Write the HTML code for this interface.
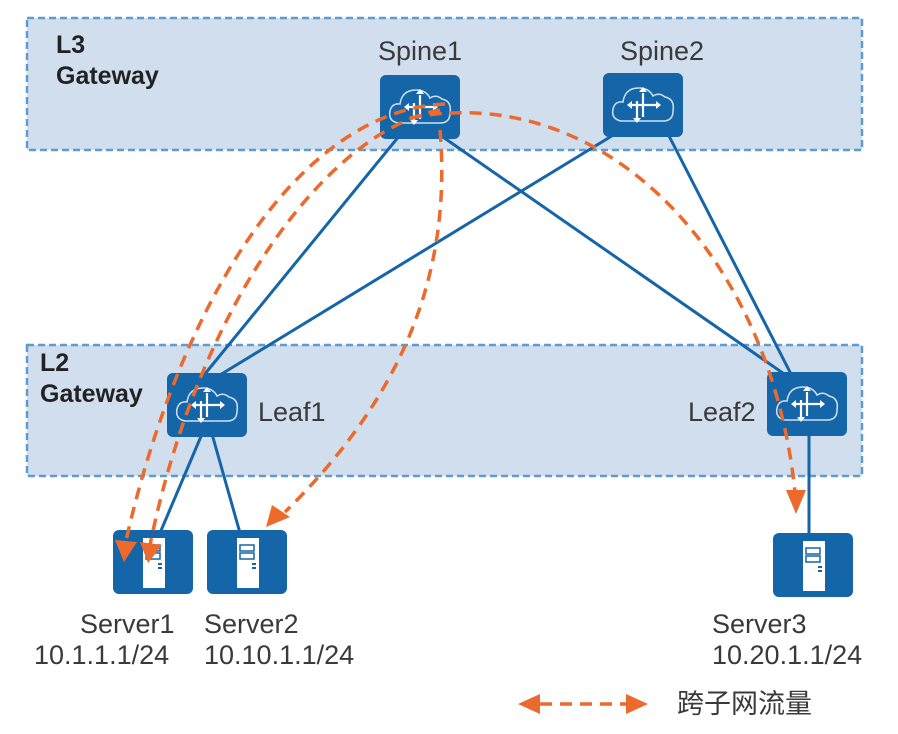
<!DOCTYPE html>
<html><head><meta charset="utf-8"><style>
body{margin:0;background:#fff;}
svg{display:block}
text{font-family:"Liberation Sans","Noto Sans CJK SC",sans-serif;fill:#3a3a3a}
</style></head><body>
<svg width="898" height="734" viewBox="0 0 898 734" xmlns="http://www.w3.org/2000/svg">
<defs>
<g id="sw">
<rect x="0" y="0" width="80" height="64" rx="6" fill="#1565a9"/>
<path d="M18 48 Q8 46 10 36 Q12 28 20 29 Q22 15 36 15 Q46 15 50 23 Q56 19 62 24 Q72 26 70 38 Q70 48 60 48 Z" fill="none" stroke="#cfe0f2" stroke-width="1.5"/>
<g stroke="#fff" stroke-width="2.2" fill="none">
<line x1="40" y1="20" x2="40" y2="44"/><line x1="28" y1="32" x2="54" y2="32"/>
<line x1="34" y1="28" x2="34" y2="46"/>
</g>
<g fill="#fff"><path d="M36 19 L40 14 L44 19Z"/><path d="M30 45 L34 50 L38 45Z"/><path d="M53 28 L58 32 L53 36Z"/><path d="M29 28 L24 32 L29 36Z"/></g>
</g>
<g id="sv">
<rect x="0" y="0" width="80" height="64" rx="6" fill="#1565a9"/>
<rect x="30" y="8" width="22" height="50" fill="#fff"/>
<rect x="33" y="15" width="14" height="6" fill="none" stroke="#1565a9" stroke-width="1.5"/>
<rect x="33" y="23" width="14" height="6" fill="none" stroke="#1565a9" stroke-width="1.5"/>
<rect x="45" y="33" width="4" height="2" fill="#1565a9"/><rect x="45" y="37" width="4" height="2" fill="#1565a9"/>
</g>
</defs>
<rect x="27" y="18" width="835" height="132" fill="#d0deee" stroke="#5d9bd0" stroke-width="2.5" stroke-dasharray="7,4"/>
<rect x="27" y="345" width="835" height="131" fill="#d0deee" stroke="#5d9bd0" stroke-width="2.5" stroke-dasharray="7,4"/>
<text x="56" y="53" font-size="25" font-weight="bold" style="fill:#222">L3</text>
<text x="56" y="84" font-size="25" font-weight="bold" style="fill:#222">Gateway</text>
<text x="40" y="371" font-size="25" font-weight="bold" style="fill:#222">L2</text>
<text x="40" y="402" font-size="25" font-weight="bold" style="fill:#222">Gateway</text>
<g stroke="#1565a9" stroke-width="3">
<line x1="400" y1="135" x2="200" y2="380"/>
<line x1="440" y1="135" x2="790" y2="378"/>
<line x1="615" y1="134" x2="215" y2="378"/>
<line x1="668" y1="134" x2="792" y2="376"/>
<line x1="202" y1="434" x2="160" y2="533"/>
<line x1="212" y1="434" x2="240" y2="533"/>
<line x1="809" y1="434" x2="809" y2="535"/>
</g>
<use href="#sw" x="380" y="75"/>
<use href="#sw" x="603" y="73"/>
<use href="#sw" x="167" y="373"/>
<use href="#sw" x="767" y="372"/>
<use href="#sv" x="113" y="530"/>
<use href="#sv" x="207" y="530"/>
<use href="#sv" x="773" y="533"/>
<g font-size="27">
<text x="378" y="60">Spine1</text>
<text x="620" y="60">Spine2</text>
<text x="258" y="421">Leaf1</text>
<text x="688" y="421">Leaf2</text>
<text x="80" y="633">Server1</text>
<text x="34" y="664">10.1.1.1/24</text>
<text x="204" y="633">Server2</text>
<text x="204" y="664">10.10.1.1/24</text>
<text x="712" y="633">Server3</text>
<text x="712" y="664">10.20.1.1/24</text>
</g>
<g fill="none" stroke="#ec6a2c" stroke-width="3.5" stroke-dasharray="12,8">
<path d="M445 104 C300 110 180 300 125 545"/>
<path d="M440 110 C330 130 200 300 150 545"/>
<path d="M440 130 C450 250 420 380 285 512"/>
<path d="M410 118 C600 80 770 250 795 492"/>
</g>
<g fill="#ec6a2c">
<path d="M115 540 L137 542 L124 562Z"/>
<path d="M140 542 L162 545 L148 563Z"/>
<path d="M272 505 L290 517 L266 527Z"/>
<path d="M786 490 L806 490 L796 514Z"/>
<path d="M518 704 L540 694 L540 714Z"/>
<path d="M648 704 L626 694 L626 714Z"/>
</g>
<line x1="540" y1="704" x2="626" y2="704" stroke="#ec6a2c" stroke-width="3.5" stroke-dasharray="12,8"/>
<text x="677" y="713" font-size="27">跨子网流量</text>
</svg>
</body></html>
